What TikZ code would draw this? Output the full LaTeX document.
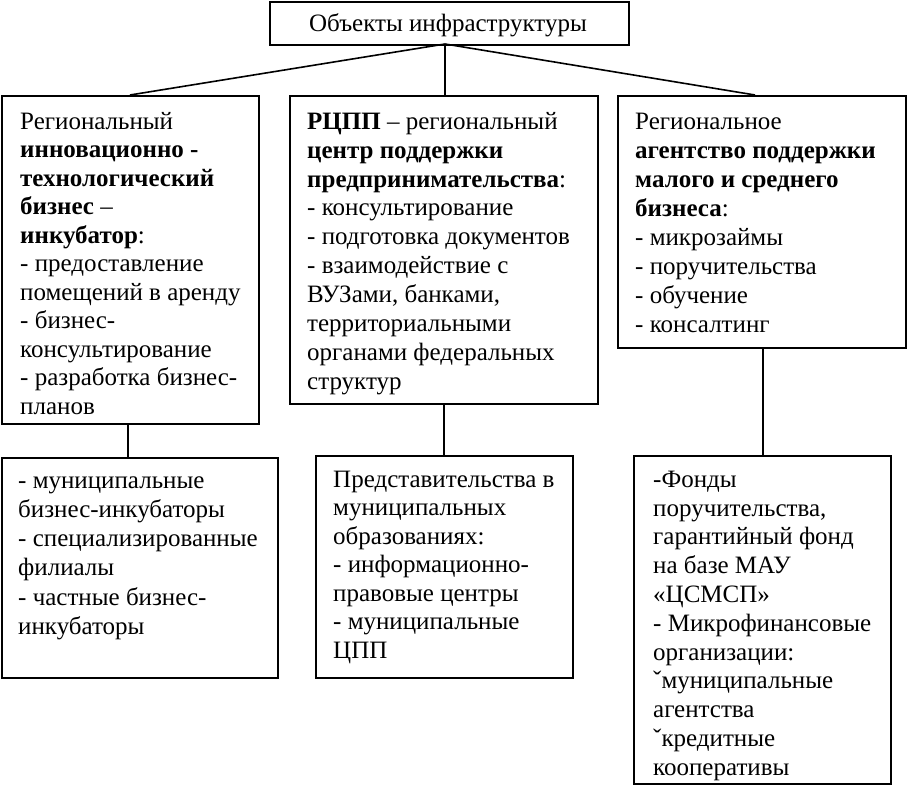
\documentclass[tikz,border=0pt]{standalone}
\usepackage{fontspec}
\setmainfont{Liberation Serif}
\newcommand\fl{\rule{0pt}{24pt}}
\begin{document}
\begin{tikzpicture}[x=1pt,y=-1pt,
  frame/.style={draw,line width=1.6pt,anchor=north west,inner sep=0pt},
  txt/.style={anchor=north west,inner sep=0pt,align=left},
  conn/.style={line width=1.6pt}]
\useasboundingbox (0,0) rectangle (907,794);
% boxes
\node[frame,minimum width=359pt,minimum height=43pt] (top) at (269,1) {};
\node[frame,minimum width=257pt,minimum height=328pt] (b1) at (1,95) {};
\node[frame,minimum width=308pt,minimum height=308pt] (b2) at (289,95) {};
\node[frame,minimum width=288pt,minimum height=252pt] (b3) at (617,95) {};
\node[frame,minimum width=276pt,minimum height=220pt] (b4) at (1,457) {};
\node[frame,minimum width=257pt,minimum height=222pt] (b5) at (315,455) {};
\node[frame,minimum width=257pt,minimum height=328pt] (b6) at (633,455) {};
% texts
\node[anchor=base,inner sep=0pt,font=\fontsize{25}{28}\selectfont] (ttop) at (448,32) {Объекты инфраструктуры};
\node[txt,font=\fontsize{25}{28.5}\selectfont] (t1) at (20,105) {\fl Региональный\\
\textbf{инновационно -}\\
\textbf{технологический}\\
\textbf{бизнес} –\\
\textbf{инкубатор}:\\
- предоставление\\
помещений в аренду\\
- бизнес-\\
консультирование\\
- разработка бизнес-\\
планов};
\node[txt,font=\fontsize{25}{28.9}\selectfont] (t2) at (307,105) {\fl\textbf{РЦПП} – региональный\\
\textbf{центр поддержки}\\
\textbf{предпринимательства}:\\
- консультирование\\
- подготовка документов\\
- взаимодействие с\\
ВУЗами, банками,\\
территориальными\\
органами федеральных\\
структур};
\node[txt,font=\fontsize{25}{29.1}\selectfont] (t3) at (635,105) {\fl Региональное\\
\textbf{агентство поддержки}\\
\textbf{малого и среднего}\\
\textbf{бизнеса}:\\
- микрозаймы\\
- поручительства\\
- обучение\\
- консалтинг};
\node[txt,font=\fontsize{25}{29.2}\selectfont] (t4) at (18,464) {\fl - муниципальные\\
бизнес-инкубаторы\\
- специализированные\\
филиалы\\
- частные бизнес-\\
инкубаторы};
\node[txt,font=\fontsize{25}{28.5}\selectfont] (t5) at (333,463) {\fl Представительства в\\
муниципальных\\
образованиях:\\
- информационно-\\
правовые центры\\
- муниципальные\\
ЦПП};
\node[txt,font=\fontsize{25}{28.8}\selectfont] (t6) at (653,463) {\fl -Фонды\\
поручительства,\\
гарантийный фонд\\
на базе МАУ\\
«ЦСМСП»\\
- Микрофинансовые\\
организации:\\
ˇмуниципальные\\
агентства\\
ˇкредитные\\
кооперативы};
% connectors
\coordinate (hub) at (445,44);
\coordinate (e1) at (130,95);
\coordinate (e2) at (445,95);
\coordinate (e3) at (755,95);
\draw[conn] (hub) -- (e1);
\draw[conn] (hub) -- (e2);
\draw[conn] (hub) -- (e3);
\coordinate (d1) at (128,423);
\coordinate (d2) at (444,403);
\coordinate (d3) at (763,347);
\draw[conn] (d1) -- (d1 |- b4.north);
\draw[conn] (d2) -- (d2 |- b5.north);
\draw[conn] (d3) -- (d3 |- b6.north);
\end{tikzpicture}
\end{document}
